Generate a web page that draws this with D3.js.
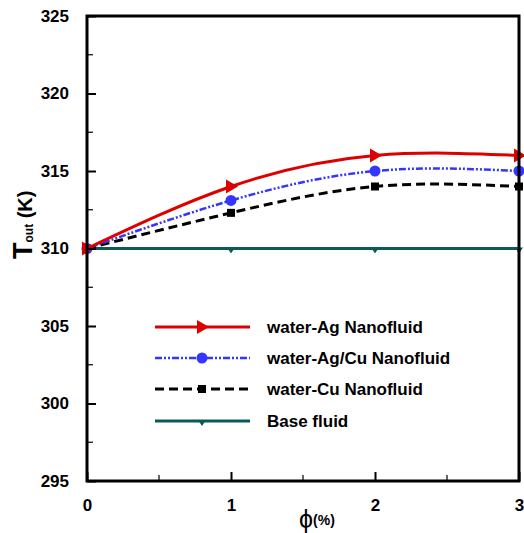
<!DOCTYPE html>
<html><head><meta charset="utf-8">
<script src="https://cdn.jsdelivr.net/npm/d3@7"></script>
<style>body{margin:0;background:#fff}svg{display:block}</style>
</head><body><svg id="c" width="524" height="533"></svg>
<script>
const phi = [0, 1, 2, 3];
const agValues = [310, 314, 316, 316];
const agCuValues = [310, 313.1, 315, 315];
const cuValues = [310, 312.3, 314, 314];
const baseValues = [310, 310, 310, 310];
const seriesNames = ["water-Ag Nanofluid", "water-Ag/Cu Nanofluid", "water-Cu Nanofluid", "Base fluid"];
const yTicks = [295, 300, 305, 310, 315, 320, 325];
const xTicks = [0, 1, 2, 3];

const svg = d3.select("#c");
const L = 87, R = 519, T = 16, B = 481;
const x = d3.scaleLinear().domain([0, 3]).range([L, R]);
const y = d3.scaleLinear().domain([295, 325]).range([B, T]);
const font = "'Liberation Sans', Arial, sans-serif";

const series = [
  {name: seriesNames[0], vals: agValues, color: "#dd0000", width: 3, dash: null, marker: "triR"},
  {name: seriesNames[1], vals: agCuValues, color: "#3535ff", width: 2.5, dash: "7,2,2,2,2,2", marker: "circle"},
  {name: seriesNames[2], vals: cuValues, color: "#000000", width: 3, dash: "9,5", marker: "square"},
  {name: seriesNames[3], vals: baseValues, color: "#0b5a56", width: 3, dash: null, marker: "triD"}
];

function drawMarker(g, type, cx, cy, color) {
  if (type === "triR") {
    g.append("path").attr("d", `M${cx-5},${cy-7}L${cx+7},${cy}L${cx-5},${cy+7}Z`).attr("fill", color);
  } else if (type === "circle") {
    g.append("circle").attr("cx", cx).attr("cy", cy).attr("r", 5.5).attr("fill", color);
  } else if (type === "square") {
    g.append("rect").attr("x", cx-4).attr("y", cy-4).attr("width", 8).attr("height", 8).attr("fill", color);
  } else if (type === "triD") {
    g.append("path").attr("d", `M${cx-4},${cy-1}L${cx+4},${cy-1}L${cx},${cy+5}Z`).attr("fill", color);
  }
}

const plot = svg.append("g");
[...series].reverse().forEach(s => {
  const line = d3.line().x((d, i) => x(phi[i])).y(d => y(d)).curve(d3.curveNatural);
  plot.append("path").datum(s.vals).attr("d", line).attr("fill", "none")
    .attr("stroke", s.color).attr("stroke-width", s.width)
    .attr("stroke-dasharray", s.dash);
  s.vals.forEach((v, i) => drawMarker(plot, s.marker, x(phi[i]), y(v), s.color));
});

svg.append("rect").attr("x", L).attr("y", T).attr("width", R - L).attr("height", B - T)
  .attr("fill", "none").attr("stroke", "#000").attr("stroke-width", 3);

const yAxis = d3.axisLeft(y).tickValues(yTicks).tickSizeInner(-9).tickSizeOuter(0).tickPadding(18);
const ga = svg.append("g").attr("transform", `translate(${L},0)`).call(yAxis);
ga.select(".domain").remove();
ga.selectAll(".tick line").attr("stroke-width", 2);
ga.selectAll(".tick text").attr("font-family", font).attr("font-weight", "bold").attr("font-size", 17).attr("fill", "#000");
const yMinor = d3.range(297.5, 325, 5);
svg.append("g").selectAll("line").data(yMinor).join("line")
  .attr("x1", L).attr("x2", L + 6).attr("y1", d => y(d)).attr("y2", d => y(d))
  .attr("stroke", "#000").attr("stroke-width", 1.2);

const xAxis = d3.axisBottom(x).tickValues(xTicks).tickSizeInner(-9).tickSizeOuter(0).tickPadding(18).tickFormat(d3.format("d"));
const gx = svg.append("g").attr("transform", `translate(0,${B})`).call(xAxis);
gx.select(".domain").remove();
gx.selectAll(".tick line").attr("stroke-width", 2);
gx.selectAll(".tick text").attr("font-family", font).attr("font-weight", "bold").attr("font-size", 17).attr("fill", "#000");
const xMinor = [0.5, 1.5, 2.5];
svg.append("g").selectAll("line").data(xMinor).join("line")
  .attr("x1", d => x(d)).attr("x2", d => x(d)).attr("y1", B).attr("y2", B - 6)
  .attr("stroke", "#000").attr("stroke-width", 1.2);

const xl = svg.append("text").attr("x", 299).attr("y", 528).attr("font-family", font).attr("fill", "#000");
xl.append("tspan").attr("font-size", 25).text("ϕ");
xl.append("tspan").attr("font-size", 14).attr("font-weight", "bold").attr("dy", -3).text("(%)");

const yl = svg.append("text").attr("transform", "translate(32,259) rotate(-90)").attr("font-family", font).attr("font-weight", "bold").attr("fill", "#000");
yl.append("tspan").attr("font-size", 27).text("T");
yl.append("tspan").attr("font-size", 12).attr("dy", 1).text("out");
yl.append("tspan").attr("font-size", 20).attr("dy", -1).text(" (K)");

const legY = [327, 358, 389, 421];
series.forEach((s, i) => {
  const g = svg.append("g");
  g.append("line").attr("x1", 155).attr("x2", 250).attr("y1", legY[i]).attr("y2", legY[i])
    .attr("stroke", s.color).attr("stroke-width", s.width).attr("stroke-dasharray", s.dash);
  drawMarker(g, s.marker, 202, legY[i], s.color);
  g.append("text").attr("x", 267).attr("y", legY[i]).attr("dy", "0.35em")
    .attr("font-family", font).attr("font-weight", "bold").attr("font-size", 17).attr("fill", "#000").text(s.name);
});
</script></body></html>
